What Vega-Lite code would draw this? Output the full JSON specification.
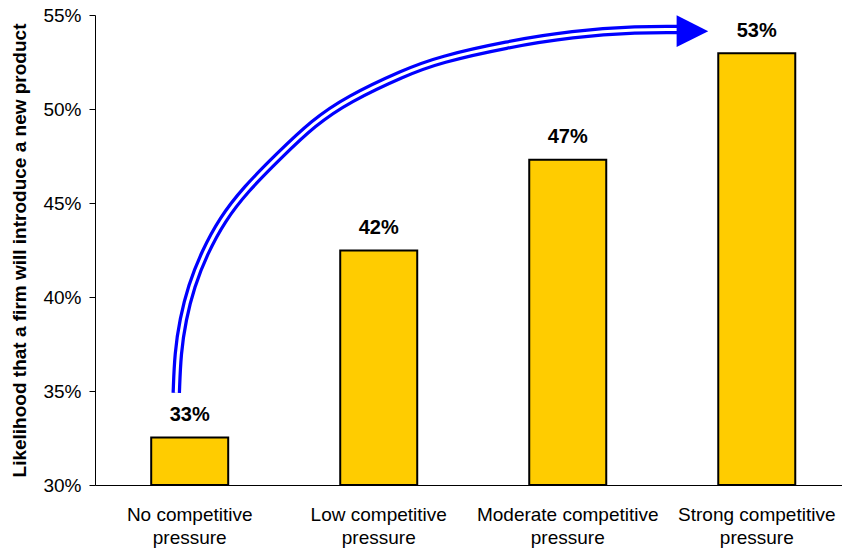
{
  "$schema": "https://vega.github.io/schema/vega-lite/v6.json",
  "width": 747,
  "height": 470,
  "autosize": "none",
  "padding": {"left": 95, "top": 15, "right": 0, "bottom": 63},
  "background": "white",
  "config": {
    "view": {"stroke": null},
    "font": "Liberation Sans"
  },
  "datasets": {
    "bars": [
      {"pressure": "No competitive pressure", "share": 0.3252},
      {"pressure": "Low competitive pressure", "share": 0.4247},
      {"pressure": "Moderate competitive pressure", "share": 0.473},
      {"pressure": "Strong competitive pressure", "share": 0.5297}
    ],
    "arrow": [
      {"u": 0.43, "share": 0.349},
      {"u": 0.438, "share": 0.3703},
      {"u": 0.465, "share": 0.388},
      {"u": 0.509, "share": 0.4057},
      {"u": 0.579, "share": 0.4235},
      {"u": 0.673, "share": 0.4412},
      {"u": 0.796, "share": 0.4572},
      {"u": 0.971, "share": 0.4749},
      {"u": 1.156, "share": 0.4927},
      {"u": 1.336, "share": 0.5051},
      {"u": 1.638, "share": 0.5194},
      {"u": 1.823, "share": 0.5263},
      {"u": 2.176, "share": 0.5343},
      {"u": 2.526, "share": 0.54},
      {"u": 2.881, "share": 0.5424},
      {"u": 3.082, "share": 0.5423}
    ],
    "head": [
      {"u": 3.161, "share": 0.5414}
    ]
  },
  "layer": [
    {
      "data": {"name": "bars"},
      "encoding": {
        "x": {
          "field": "pressure",
          "type": "nominal",
          "sort": null,
          "scale": {"paddingInner": 0.5926, "paddingOuter": 0.2723, "align": 0.546},
          "axis": {
            "title": null,
            "labelAngle": 0,
            "labelOverlap": false,
            "labelLimit": 0,
            "labelExpr": "[replace(datum.value, ' pressure', ''), 'pressure']",
            "labelFont": "Liberation Sans",
            "labelFontSize": 19,
            "labelColor": "#000000",
            "labelLineHeight": 23,
            "labelPadding": 20,
            "ticks": false,
            "tickSize": 0,
            "domainColor": "#000000",
            "domainWidth": 1,
            "grid": false
          }
        },
        "y": {
          "field": "share",
          "type": "quantitative",
          "title": "Likelihood that a firm will introduce a new product",
          "scale": {"domain": [0.3, 0.55], "nice": false, "zero": false},
          "axis": {
            "values": [0.3, 0.35, 0.4, 0.45, 0.5, 0.55],
            "format": ".0%",
            "grid": false,
            "domainColor": "#000000",
            "domainWidth": 1,
            "tickColor": "#000000",
            "tickSize": 6,
            "labelFont": "Liberation Sans",
            "labelFontSize": 19,
            "labelColor": "#000000",
            "labelPadding": 8,
            "titleFont": "Liberation Sans",
            "titleFontSize": 19,
            "titleFontWeight": "bold",
            "titleColor": "#000000",
            "titlePadding": 13
          }
        }
      },
      "layer": [
        {
          "mark": {"type": "bar", "fill": "#FFCC00", "stroke": "#000000", "strokeWidth": 2},
          "encoding": {"y2": {"datum": 0.3}}
        },
        {
          "mark": {
            "type": "text",
            "font": "Liberation Sans",
            "fontSize": 20,
            "fontWeight": "bold",
            "color": "#000000",
            "baseline": "alphabetic",
            "dy": -16.5
          },
          "encoding": {"text": {"field": "share", "format": ".0%"}}
        }
      ]
    },
    {
      "encoding": {
        "x": {
          "field": "u",
          "type": "quantitative",
          "scale": {"domain": [0, 3.9524], "nice": false, "zero": false},
          "axis": null
        },
        "y": {
          "field": "share",
          "type": "quantitative",
          "title": "Likelihood that a firm will introduce a new product",
          "scale": {"domain": [0.3, 0.55], "nice": false, "zero": false}
        }
      },
      "layer": [
        {
          "data": {"name": "arrow"},
          "mark": {"type": "line", "color": "#0000FF", "strokeWidth": 9.5, "strokeCap": "butt", "interpolate": "basis"}
        },
        {
          "data": {"name": "arrow"},
          "mark": {"type": "line", "color": "#FFFFFF", "strokeWidth": 3, "strokeCap": "butt", "interpolate": "basis"}
        },
        {
          "data": {"name": "head"},
          "mark": {
            "type": "point",
            "shape": "M -1 -1 L 1 0 L -1 1 Z",
            "size": 1000,
            "filled": true,
            "color": "#0000FF",
            "opacity": 1,
            "strokeWidth": 0
          }
        }
      ]
    }
  ],
  "resolve": {"scale": {"x": "independent"}}
}
